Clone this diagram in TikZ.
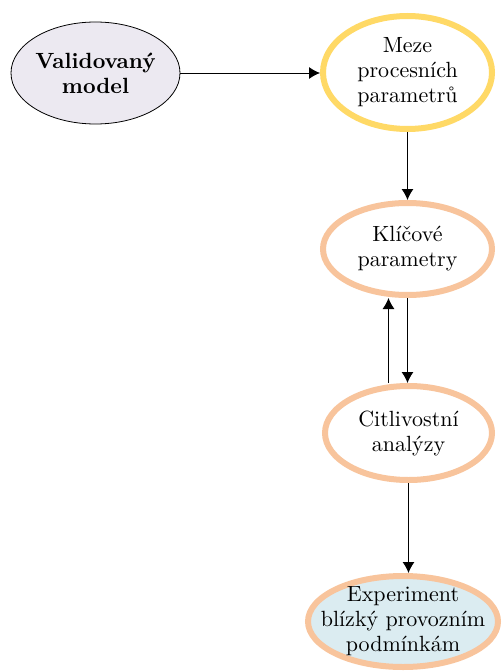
\documentclass[tikz,border=0pt]{standalone}
\usepackage{fontspec}
\setmainfont{lmroman10-regular.otf}[BoldFont=lmroman10-bold.otf]
\usetikzlibrary{shapes.geometric,arrows.meta}
\definecolor{lavender}{HTML}{ECE9F1}
\definecolor{goldline}{HTML}{FFD966}
\definecolor{peach}{HTML}{F8C49C}
\definecolor{paleblue}{HTML}{DBECF1}
\begin{document}
\begin{tikzpicture}[x=1pt,y=-1pt,
  every label/.style={font=\fontsize{22}{25}\selectfont, align=center, inner sep=0pt},
  % the outline keeps its given size; the text sits on it as a centred label
  oval/.style={ellipse, inner sep=0pt, label=center:{#1}},
  startbox/.style={oval=#1, draw=black, line width=0.8pt, fill=lavender},
  goldbox/.style={oval=#1, draw=goldline, line width=6pt, fill=white},
  peachbox/.style={oval=#1, draw=peach, line width=6pt, fill=white},
  endbox/.style={oval=#1, draw=peach, line width=6pt, fill=paleblue},
  flow/.style={-{Latex[length=11pt,width=12pt]}, line width=0.9pt}]
  \useasboundingbox (0,0) rectangle (502,671);

  \node[startbox={\bfseries Validovaný\\\bfseries model}, minimum width=169pt, minimum height=102pt] (v) at (95.5,73) {};
  \node[goldbox={Meze\\procesních\\parametrů}, minimum width=169pt, minimum height=113pt] (m) at (407.5,72.5) {};
  \node[peachbox={Klíčové\\parametry}, minimum width=169pt, minimum height=92pt] (k) at (407.5,249) {};
  \node[peachbox={Citlivostní\\analýzy}, minimum width=167pt, minimum height=94pt] (c) at (408.5,433) {};
  \node[endbox={Experiment\\blízký provozním\\podmínkám}, minimum width=190pt, minimum height=91pt] (e) at (403,621.5) {};

  \draw[flow] (v.east) -- (v.east -| m.west);
  \draw[flow] (m.south) -- (m.south |- k.north);
  \draw[flow] (k.south) -- (k.south |- c.north);
  \draw[flow] ([xshift=-20pt]c.north) -- ([xshift=-20pt]c.north |- k.south);
  \draw[flow] (c.south) -- (c.south |- e.north);
\end{tikzpicture}
\end{document}
